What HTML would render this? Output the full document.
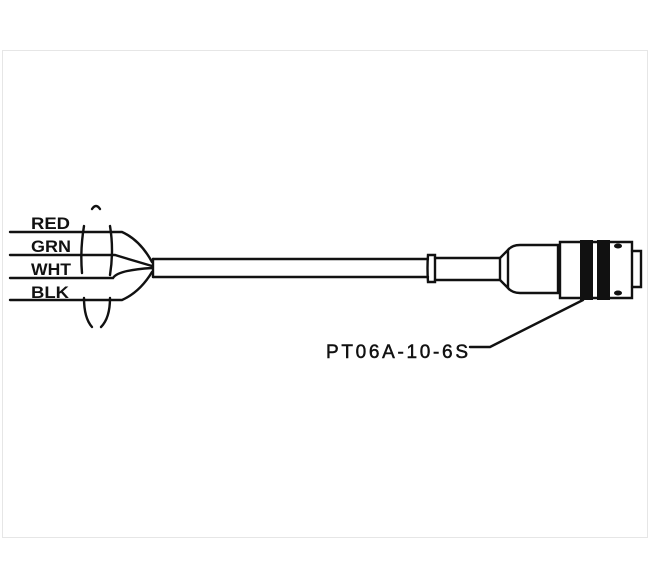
<!DOCTYPE html>
<html><head><style>body{margin:0;background:#fff}svg{display:block}</style></head><body>
<svg width="650" height="588" viewBox="0 0 650 588" xmlns="http://www.w3.org/2000/svg">
<rect x="0" y="0" width="650" height="588" fill="#fff"/>
<rect x="2.5" y="50.5" width="645" height="487" fill="none" stroke="#e6e6e6" stroke-width="1"/>
<g font-family="Liberation Sans, sans-serif" font-weight="bold" font-size="17" fill="#111">
<text x="31" y="229" textLength="39" lengthAdjust="spacingAndGlyphs">RED</text>
<text x="31" y="252" textLength="40" lengthAdjust="spacingAndGlyphs">GRN</text>
<text x="31" y="275" textLength="40" lengthAdjust="spacingAndGlyphs">WHT</text>
<text x="31" y="298" textLength="38" lengthAdjust="spacingAndGlyphs">BLK</text>
<text x="326" y="358" font-size="19" font-weight="normal" stroke="#111" stroke-width="0.5" textLength="142" lengthAdjust="spacing">PT06A-10-6S</text>
</g>
<g fill="none" stroke="#111" stroke-width="2.4" stroke-linecap="round">
<path d="M10 232 H122 Q140 240 152 262"/>
<path d="M10 255 H115 L152 266"/>
<path d="M10 278 H113 Q118 270 152 268"/>
<path d="M10 300 H122 Q140 292 152 272"/>
<path d="M84 226 Q80 250 82 273"/>
<path d="M110 226 Q114 250 110 275"/>
<path d="M84 298 Q84 318 92 327"/>
<path d="M110 298 Q110 318 101 327"/>
<path d="M92 209 Q96 203 100 209"/>
<path d="M153 259 V277"/>
<path d="M153 259 H428 M153 277 H428"/>
<path d="M428 255 Q427 268 428 282 H435 V255 Z"/>
<path d="M435 258 H500 L508 250 V288 L500 280 H435"/>
<path d="M500 258 V280"/>
<path d="M508 250 Q512 245 520 245 H558 V293 H520 Q512 293 508 288"/>
<path d="M560 242 H632 V298 H560 Z"/>
<path d="M632 251 H641 V287 H632"/>
<path d="M583 300 L490 347 H470"/>
</g>
<rect x="580" y="240" width="13" height="60" fill="#111"/>
<rect x="597" y="240" width="13" height="60" fill="#111"/>
<ellipse cx="618" cy="246" rx="4" ry="2.5" fill="#111"/>
<ellipse cx="618" cy="293" rx="4" ry="2.5" fill="#111"/>
</svg>
</body></html>
